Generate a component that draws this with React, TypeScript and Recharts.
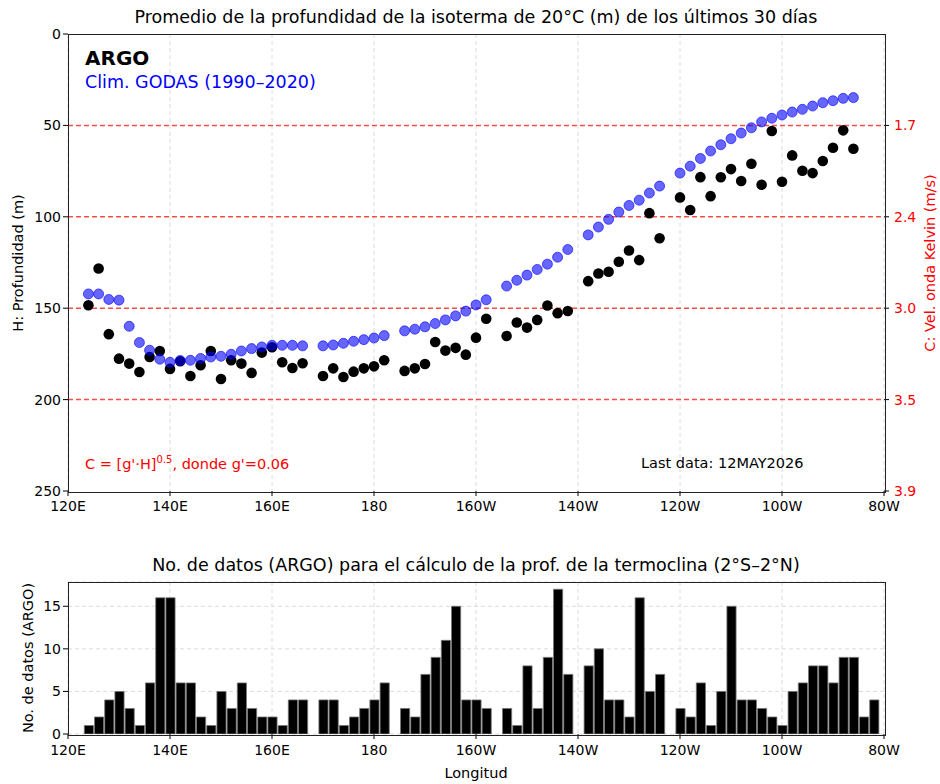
import React from "react";
import {
  Bar,
  BarChart,
  CartesianGrid,
  ReferenceLine,
  Scatter,
  ScatterChart,
  XAxis,
  YAxis,
} from "recharts";

// Longitudes (degrees east, 0-360) of each 2-degree bin
const LONS = [
  124, 126, 128, 130, 132, 134, 136, 138, 140, 142, 144, 146, 148, 150, 152, 154, 156, 158, 160,
  162, 164, 166, 168, 170, 172, 174, 176, 178, 180, 182, 184, 186, 188, 190, 192, 194, 196, 198,
  200, 202, 204, 206, 208, 210, 212, 214, 216, 218, 220, 222, 224, 226, 228, 230, 232, 234, 236,
  238, 240, 242, 244, 246, 248, 250, 252, 254, 256, 258, 260, 262, 264, 266, 268, 270, 272, 274,
  276, 278,
];

// 20°C isotherm depth (m), ARGO last 30 days
const ARGO_DEPTH = [
  148.4, 128.3, 164.2, 177.6, 180.3, 184.9, 176.7, 173.4, 183.2, 179.0, 187.1, 181.2, 173.4, 188.7,
  178.5, 180.3, 185.4, 174.3, 171.4, 179.6, 182.7, 180.1, null, 187.1, 182.9, 187.6, 184.7, 182.9,
  181.8, 178.5, null, 184.3, 182.9, 180.5, 168.5, 173.2, 171.7, 175.4, 166.1, 155.8, null, 165.2,
  157.8, 160.6, 156.4, 148.5, 152.7, 151.5, null, 135.2, 131.0, 130.1, 124.6, 118.4, 123.7, 98.0,
  111.7, null, 89.4, 96.3, 78.3, 88.7, 78.4, 73.9, 80.4, 71.0, 82.5, 53.1, 80.8, 66.4, 74.8, 76.1,
  69.5, 62.2, 52.7, 62.8, null, null,
];

// GODAS climatology 1990-2020 (m)
const GODAS_DEPTH = [
  142.2, 142.2, 145.2, 145.6, 159.9, 168.8, 173.0, 177.9, 179.6, 178.6, 178.5, 177.5, 176.7, 176.3,
  175.2, 173.4, 172.1, 171.2, 170.3, 170.3, 170.3, 170.6, null, 170.6, 170.1, 169.2, 168.1, 167.2,
  166.3, 165.0, null, 162.4, 161.5, 160.2, 158.4, 156.4, 154.2, 151.6, 148.2, 145.4, null, 137.9,
  134.7, 131.9, 128.8, 125.9, 122.1, 117.9, null, 109.9, 105.6, 101.4, 97.4, 93.8, 90.9, 87.0,
  83.2, null, 76.1, 72.3, 68.1, 64.0, 60.6, 57.3, 54.2, 51.3, 48.1, 46.1, 44.3, 42.7, 41.2, 39.4,
  37.6, 36.5, 35.2, 34.8, null, null,
];

// number of ARGO profiles per bin (2S-2N)
const PROFILE_COUNT = [
  1, 2, 4, 5, 3, 1, 6, 16, 16, 6, 6, 2, 1, 5, 3, 6, 3, 2, 2, 1, 4, 4, 0, 4, 4, 1, 2, 3, 4, 6, 0, 3,
  2, 7, 9, 11, 15, 4, 4, 3, 0, 3, 1, 8, 3, 9, 17, 7, 0, 8, 10, 4, 4, 2, 16, 5, 7, 0, 3, 2, 6, 1, 5,
  15, 4, 4, 3, 2, 1, 5, 6, 8, 8, 6, 9, 9, 2, 4,
];

const LON_TICKS = [120, 140, 160, 180, 200, 220, 240, 260, 280];
const LON_LABELS = ["120E", "140E", "160E", "180", "160W", "140W", "120W", "100W", "80W"];
const DEPTH_TICKS = [0, 50, 100, 150, 200, 250];
const KELVIN_TICKS = [50, 100, 150, 200, 250];
const COUNT_TICKS = [0, 5, 10, 15];
const G_PRIME = 0.06;

const FONT = "'DejaVu Sans', sans-serif";

const lonLabel = (v: number) => LON_LABELS[LON_TICKS.indexOf(v)] ?? "";
const kelvinLabel = (h: number) => Math.sqrt(G_PRIME * h).toFixed(1);

const argoPoints = LONS.map((lon, i) => ({ lon, h: ARGO_DEPTH[i] })).filter((d) => d.h != null);
const godasPoints = LONS.map((lon, i) => ({ lon, h: GODAS_DEPTH[i] })).filter((d) => d.h != null);
const countBars = LONS.map((lon, i) => ({ lon, n: PROFILE_COUNT[i] })).filter((d) => d.n > 0);

const blackDot = (p: any) => <circle cx={p.cx} cy={p.cy} r={5.3} fill="#000" />;
const blueDot = (p: any) => (
  <circle cx={p.cx} cy={p.cy} r={5} fill="rgba(0,0,255,0.6)" stroke="rgba(0,0,255,0.6)" strokeWidth={1} />
);
const noDot = () => <g />;

const tickStyle = { fill: "#000", fontSize: 14, fontFamily: FONT };

function Txt({
  x,
  y,
  children,
  style,
  anchor = "center",
  rotate = false,
}: {
  x: number;
  y: number;
  children: React.ReactNode;
  style?: React.CSSProperties;
  anchor?: "center" | "left";
  rotate?: boolean;
}) {
  const tx = anchor === "center" ? "-50%" : "0";
  return (
    <div
      style={{
        position: "absolute",
        left: x,
        top: y,
        transform: `translate(${tx}, -50%)${rotate ? " rotate(-90deg)" : ""}`,
        whiteSpace: "nowrap",
        fontFamily: FONT,
        fontSize: 14.5,
        color: "#000",
        lineHeight: 1,
        ...style,
      }}
    >
      {children}
    </div>
  );
}

function Frame({ left, top, width, height }: { left: number; top: number; width: number; height: number }) {
  return (
    <div
      style={{
        position: "absolute",
        left: left - 0.5,
        top: top - 0.5,
        width,
        height,
        border: "1px solid #222",
        pointerEvents: "none",
      }}
    />
  );
}

export default function App() {
  return (
    <div style={{ position: "absolute", left: 0, top: 0, width: 940, height: 784, background: "#fff", fontFamily: FONT }}>
      {/* upper panel: isotherm depth */}
      <div style={{ position: "absolute", left: 0, top: 0 }}>
        <ScatterChart width={940} height={530} margin={{ top: 34, right: 16, bottom: 9, left: 28 }}>
          <CartesianGrid horizontal={false} stroke="#dcdcdc" strokeDasharray="4 3" />
          <XAxis
            dataKey="lon"
            type="number"
            domain={[120, 280]}
            ticks={LON_TICKS}
            tickFormatter={lonLabel}
            height={30}
            axisLine={false}
            tickLine={{ stroke: "#000" }}
            tickSize={5}
            tickMargin={5}
            tick={tickStyle}
            allowDataOverflow
          />
          <YAxis
            dataKey="h"
            type="number"
            domain={[0, 250]}
            ticks={DEPTH_TICKS}
            reversed
            width={40}
            axisLine={false}
            tickLine={{ stroke: "#000" }}
            tickSize={5}
            tick={tickStyle}
            allowDataOverflow
          />
          <YAxis
            yAxisId="c"
            dataKey="h"
            orientation="right"
            type="number"
            domain={[0, 250]}
            ticks={KELVIN_TICKS}
            tickFormatter={kelvinLabel}
            reversed
            width={40}
            axisLine={false}
            tickLine={{ stroke: "#000" }}
            tickSize={5}
            tickMargin={5}
            tick={{ ...tickStyle, fill: "#ff0000" }}
            allowDataOverflow
          />
          {[50, 100, 150, 200].map((y) => (
            <ReferenceLine key={y} y={y} stroke="#ff0000" strokeOpacity={0.7} strokeWidth={1.5} strokeDasharray="5 3" />
          ))}
          {/* carries the Kelvin-speed axis, draws nothing */}
          <Scatter yAxisId="c" data={godasPoints} shape={noDot} isAnimationActive={false} />
          <Scatter data={argoPoints} shape={blackDot} isAnimationActive={false} />
          <Scatter data={godasPoints} shape={blueDot} isAnimationActive={false} />
        </ScatterChart>
      </div>
      <Frame left={68} top={34} width={816} height={457} />

      <Txt x={476} y={18} style={{ fontSize: 17.5 }}>
        Promedio de la profundidad de la isoterma de 20°C (m) de los últimos 30 días
      </Txt>
      <Txt x={18} y={263} rotate>
        H: Profundidad (m)
      </Txt>
      <Txt x={930} y={263} rotate style={{ color: "#ff0000" }}>
        C: Vel. onda Kelvin (m/s)
      </Txt>
      <Txt x={85} y={58} anchor="left" style={{ fontSize: 20, fontWeight: "bold" }}>
        ARGO
      </Txt>
      <Txt x={85} y={83} anchor="left" style={{ fontSize: 17.5, color: "#0000ff" }}>
        Clim. GODAS (1990–2020)
      </Txt>
      <Txt x={85} y={463} anchor="left" style={{ color: "#ff0000" }}>
        C = [g'·H]<sup style={{ fontSize: 10 }}>0.5</sup>, donde g'=0.06
      </Txt>
      <Txt x={641} y={463} anchor="left">
        Last data: 12MAY2026
      </Txt>

      {/* lower panel: number of profiles */}
      <div style={{ position: "absolute", left: 0, top: 540 }}>
        <BarChart width={940} height={244} data={countBars} margin={{ top: 42, right: 56, bottom: 20, left: 28 }}>
          <CartesianGrid stroke="#dcdcdc" strokeDasharray="4 3" />
          <XAxis
            dataKey="lon"
            type="number"
            domain={[120, 280]}
            ticks={LON_TICKS}
            tickFormatter={lonLabel}
            height={30}
            axisLine={false}
            tickLine={{ stroke: "#000" }}
            tickSize={5}
            tickMargin={6}
            tick={tickStyle}
            allowDataOverflow
          />
          <YAxis
            type="number"
            domain={[0, 17.85]}
            ticks={COUNT_TICKS}
            width={40}
            axisLine={false}
            tickLine={{ stroke: "#000" }}
            tickSize={5}
            tick={tickStyle}
            allowDataOverflow
          />
          <Bar dataKey="n" fill="#000" stroke="#777" strokeWidth={0.8} barSize={10.2} isAnimationActive={false} />
        </BarChart>
      </div>
      <Frame left={68} top={582} width={816} height={152} />

      <Txt x={476} y={566} style={{ fontSize: 17.5 }}>
        No. de datos (ARGO) para el cálculo de la prof. de la termoclina (2°S–2°N)
      </Txt>
      <Txt x={28} y={658} rotate>
        No. de datos (ARGO)
      </Txt>
      <Txt x={476} y={773}>
        Longitud
      </Txt>
    </div>
  );
}
